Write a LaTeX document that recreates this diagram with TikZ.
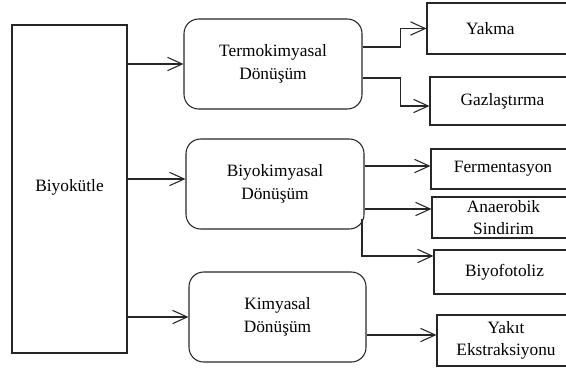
\documentclass[tikz,border=0pt]{standalone}
\usepackage{fontspec}
\setmainfont{Liberation Serif}
\newfontfamily\timesfam{Liberation Serif}
\usetikzlibrary{arrows.meta}
\begin{document}
\begin{tikzpicture}[x=0.75pt,y=-0.75pt,
  font=\timesfam\fontsize{13pt}{17pt}\selectfont,
  box/.style={draw=black!85, line width=0.8pt, rectangle, inner sep=0pt, align=center, text=black},
  rbox/.style={box, rounded corners=11pt},
  arr/.style={draw=black!85, line width=0.8pt, -{Straight Barb[length=11pt,width=10pt,line width=0.8pt]}}]
\useasboundingbox (0,0) rectangle (566,367);
\clip (0,0) rectangle (566,367);
% left box
\node[box, minimum width=86.25pt, minimum height=246pt] (A) at (69.5,189) {\raisebox{5pt}{Biyokütle}};
% middle rounded boxes
\node[rbox, minimum width=133.5pt, minimum height=67.5pt] (T) at (273,64) {Termokimyasal\\Dönüşüm};
\node[rbox, minimum width=133.5pt, minimum height=67.5pt] (B) at (275,184) {Biyokimyasal\\Dönüşüm};
\node[rbox, minimum width=132.75pt, minimum height=67.5pt] (K) at (277.5,317) {Kimyasal\\Dönüşüm};
% right boxes
\node[box, minimum width=111pt, minimum height=38.25pt] (Y) at (501,28.5) {Yakma\hspace{16pt}};
\node[box, minimum width=108.75pt, minimum height=36pt] (G) at (502.5,101) {Gazlaştırma};
\node[box, minimum width=108pt, minimum height=30pt] (F) at (503,169) {Fermentasyon};
\node[box, minimum width=107.25pt, minimum height=30.75pt, font=\timesfam\fontsize{13pt}{16.5pt}\selectfont] (An) at (503.5,217.5) {Anaerobik\\Sindirim};
\node[box, minimum width=105.75pt, minimum height=33pt] (Bf) at (504.5,272) {Biyofotoliz};
\node[box, minimum width=103.5pt, minimum height=38.25pt, font=\timesfam\fontsize{13pt}{16.5pt}\selectfont] (Yk) at (506,340.5) {Yakıt\\Ekstraksiyonu};
% connectors from Biyokütle
\draw[arr] (A.east |- T.west) -- (T.west);
\draw[arr] ([yshift=3.75pt]A.east |- B.west) -- ([yshift=3.75pt]B.west);
\draw[arr] (A.east |- K.west) -- (K.west);
% Termokimyasal
\draw[arr] ([yshift=12.75pt]T.east) -- ++(38,0) |- (Y.west);
\draw[arr] ([yshift=-10.5pt]T.east) -- ++(38,0) |- ([yshift=-3.75pt]G.west);
% Biyokimyasal
\draw[arr] ([yshift=13.5pt]B.east) -- ([yshift=13.5pt]B.east -| F.west);
\draw[arr] ([yshift=-18.75pt]B.east) -- ([yshift=-18.75pt]B.east -| An.west);
\coordinate (bsplit) at (362,219);
\draw[arr] (bsplit) |- ([yshift=12pt]Bf.west);
% Kimyasal
\draw[arr] ([yshift=-13.5pt]K.east) -- ([yshift=-13.5pt]K.east -| Yk.west);
\end{tikzpicture}
\end{document}
